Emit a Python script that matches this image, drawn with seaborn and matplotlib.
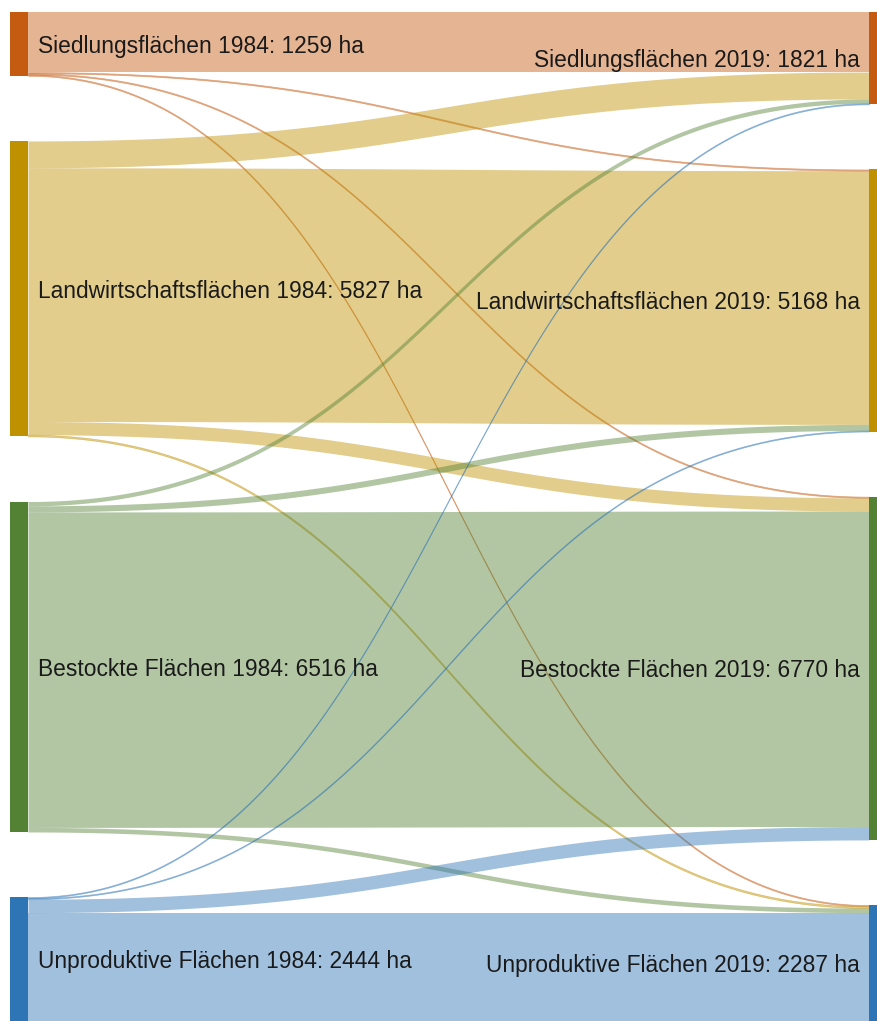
import numpy as np
import seaborn as sns
import matplotlib.pyplot as plt

# Node names and areas (ha)
categories = ["Siedlungsflächen", "Landwirtschaftsflächen", "Bestockte Flächen", "Unproduktive Flächen"]
totals_1984 = [1259, 5827, 6516, 2444]
totals_2019 = [1821, 5168, 6770, 2287]

# Flows 1984 -> 2019 (row = 1984 category, column = 2019 category), in ha
from_siedlung = [1184, 25, 25, 25]
from_landwirtschaft = [530, 5002, 260, 35]
from_bestockt = [85, 120, 6221, 90]
from_unproduktiv = [22, 21, 264, 2137]

node_colors = ["#c55a11", "#bf9000", "#548235", "#2e75b6"]


def draw_plot():
    sns.set_style("white")
    plt.rcParams['font.family'] = ['Liberation Sans', 'DejaVu Sans']

    flows = np.array([from_siedlung, from_landwirtschaft, from_bestockt, from_unproduktiv])
    total = sum(totals_1984)
    gap = 0.08 * total
    span = total + 3 * gap

    fig = plt.figure(figsize=(8.78, 10.21), dpi=100)
    ax = fig.add_axes([0, 0, 1, 1 - 12 / 1021])

    # node tops on both sides
    left_top = np.concatenate([[0], np.cumsum(totals_1984)[:-1]]) + gap * np.arange(4)
    right_top = np.concatenate([[0], np.cumsum(totals_2019)[:-1]]) + gap * np.arange(4)

    # ribbons: cubic bezier, control points halfway across
    t = np.linspace(0, 1, 300)
    bx = 1.5 * t * (1 - t) + t ** 3
    by = 3 * t ** 2 - 2 * t ** 3
    out_off = left_top.copy()
    in_off = right_top.copy()
    for i in range(4):
        for j in range(4):
            v = flows[i, j]
            y0 = out_off[i]
            y1 = in_off[j]
            top = y0 + (y1 - y0) * by
            # tiny flows get a hairline edge so they stay visible where steep
            lw = 0.5 if v < 50 else 0
            ax.fill_between(bx, top, top + v, color=node_colors[i], alpha=0.45, lw=lw)
            out_off[i] += v
            in_off[j] += v

    # node bars
    w = 18 / 841
    ax.bar(np.full(4, -w), totals_1984, bottom=left_top, width=w, align='edge',
           color=node_colors, linewidth=0)
    ax.bar(np.full(4, 1.0), totals_2019, bottom=right_top, width=w, align='edge',
           color=node_colors, linewidth=0)

    # labels
    for i, name in enumerate(categories):
        ax.text(10 / 841, left_top[i] + totals_1984[i] / 2,
                f"{name} 1984: {totals_1984[i]} ha", ha='left', va='center_baseline',
                fontsize=16.4, color='#1a1a1a')
        ax.text(1 - 9 / 841, right_top[i] + totals_2019[i] / 2,
                f"{name} 2019: {totals_2019[i]} ha", ha='right', va='center_baseline',
                fontsize=16.4, color='#1a1a1a')

    ax.set_xlim(-28 / 841, 850 / 841)
    ax.set_ylim(span, 0)
    ax.axis('off')

    plt.savefig('out.png', dpi=100)


if __name__ == '__main__':
    draw_plot()
